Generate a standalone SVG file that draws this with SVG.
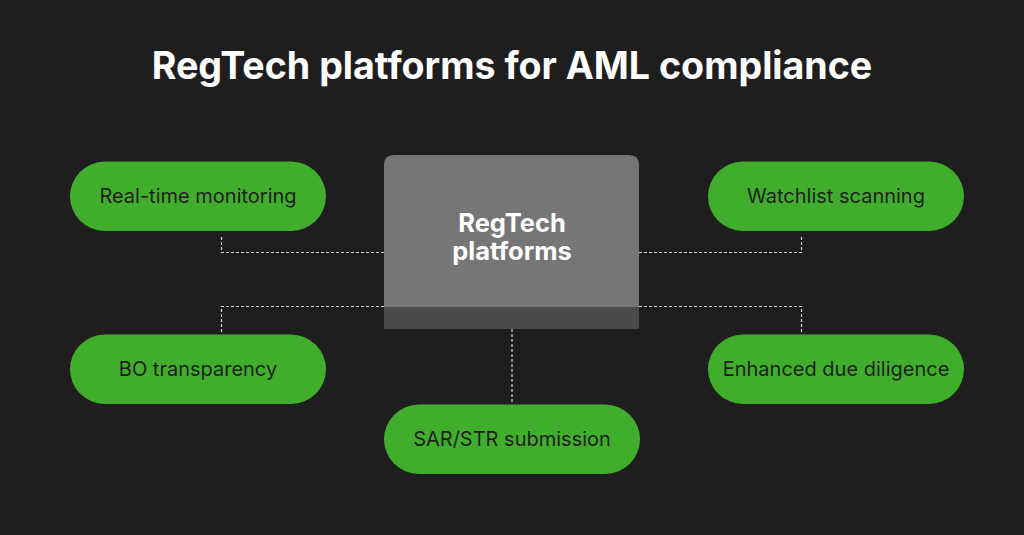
<svg xmlns="http://www.w3.org/2000/svg" width="1024" height="535" viewBox="0 0 1024 535">
<style>
.pill{fill:#40ae2c}
.pt{font-family:Inter,"Liberation Sans",sans-serif;font-size:20px;fill:#1e1f1d;text-anchor:middle}
.ct{font-family:Inter,"Liberation Sans",sans-serif;font-size:25.5px;font-weight:700;fill:#ffffff;text-anchor:middle}
.conn{fill:none;stroke:#d8d8d8;stroke-width:1.2;stroke-dasharray:3 2}
</style>
<rect width="1024" height="535" fill="#1e1e1e"/>
<text x="512" y="79" font-family="Inter,'Liberation Sans',sans-serif" font-size="37.6" font-weight="700" fill="#ffffff" text-anchor="middle">RegTech platforms for AML compliance</text>
<g id="connectors">
<path class="conn" d="M384 252.5H221.5V235"/>
<path class="conn" d="M384 306.5H221.5V332"/>
<path class="conn" d="M639 252.5H801.5V235"/>
<path class="conn" d="M639 306.5H801.5V332"/>
<path class="conn" d="M512 329V404"/>
</g>
<g id="center">
<path d="M384 329V165Q384 155 394 155H629Q639 155 639 165V329Z" fill="#767676"/>
<rect x="384" y="307" width="255" height="22" fill="#4b4b4b"/>
<text class="ct" x="512" y="232">RegTech</text>
<text class="ct" x="512" y="260">platforms</text>
</g>
<g id="realtime">
<rect class="pill" x="70" y="161.5" width="256" height="69.5" rx="34.75"/>
<text class="pt" x="198" y="203">Real-time monitoring</text>
</g>
<g id="watchlist">
<rect class="pill" x="708" y="161.5" width="256" height="69.5" rx="34.75"/>
<text class="pt" x="836" y="203">Watchlist scanning</text>
</g>
<g id="bo">
<rect class="pill" x="70" y="334.5" width="256" height="69.5" rx="34.75"/>
<text class="pt" x="198" y="376">BO transparency</text>
</g>
<g id="edd">
<rect class="pill" x="708" y="334.5" width="256" height="69.5" rx="34.75"/>
<text class="pt" x="836" y="376">Enhanced due diligence</text>
</g>
<g id="sar">
<rect class="pill" x="384" y="404.5" width="256" height="69.5" rx="34.75"/>
<text class="pt" x="512" y="446">SAR/STR submission</text>
</g>
</svg>
